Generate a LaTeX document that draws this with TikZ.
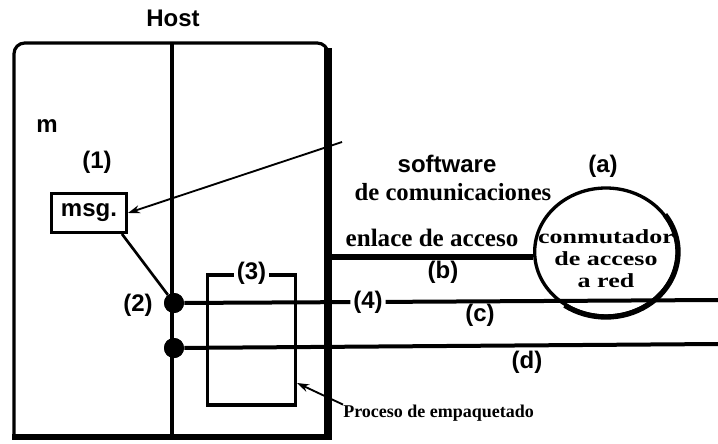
\documentclass[tikz,border=0pt]{standalone}
\usepackage{fontspec}
\setmainfont{Liberation Serif}
\setsansfont{Liberation Sans}
\newfontfamily\serwide[FakeStretch=1.3]{Liberation Serif}
\usetikzlibrary{shapes.geometric,arrows.meta}
\begin{document}
\begin{tikzpicture}[x=0.75pt,y=-0.75pt,
  lab/.style={font=\sffamily\bfseries\fontsize{18}{20}\selectfont, inner sep=0pt},
  ser/.style={font=\rmfamily\bfseries\fontsize{19}{20}\selectfont, inner sep=0pt, align=center},
  swtxt/.style={font=\serwide\bfseries\fontsize{15}{16.6}\selectfont, inner sep=0pt, align=center},
  dot/.style={circle, fill=black, minimum size=15pt, inner sep=0pt},
  wire/.style={line width=3pt},
  thin/.style={line width=2pt},
  ptr/.style={line width=1.4pt, -{Stealth[length=9pt,width=6pt]}}]
\useasboundingbox (0,0) rectangle (718,443);
% host box
\node[lab] (host) at (173,18) {Host};
\draw[line width=2.4pt, rounded corners=8] (14,437) -- (14,43) -- (328,43) -- (328,70);
\draw[line width=6pt] (328,48) -- (328,440);
\draw[line width=4pt] (12,437) -- (331,437);
\draw[line width=3pt] (172,43) -- (172,437);
\node[lab] (m) at (47,126) {m};
\node[lab] (l1) at (97,162) {(1)};
\node[lab, draw, line width=2.4pt, minimum width=56pt, minimum height=29pt] (msg) at (89,213) {msg.};
% packaging box
\node[draw, line width=2.4pt, minimum width=66pt, minimum height=97.5pt] (pk) at (251.5,340) {};
\node[lab, fill=white, inner sep=2pt] (l3) at (pk.north) {(3)};
% switch
\node[ellipse, draw, line width=2.5pt, minimum width=107pt, minimum height=96pt] (sw) at (606,252) {};
\draw[line width=4pt] (606,252) ++(-35:72 and 65) arc[start angle=-35, end angle=125, x radius=72, y radius=65];
\node[swtxt] (swt) at (606,259) {conmutador\\de acceso\\a red};
\node[lab] (la) at (603,166) {(a)};
% lines
\coordinate (a0) at (328,257);
\draw[line width=4.5pt] (a0) -- (a0 -| sw.west);
\node[lab, fill=white, inner sep=2pt] (l4) at (368,302) {(4)};
\coordinate (e4) at (718,300);
\coordinate (e5) at (718,344);
\node[dot] (d2) at (174,303) {};
\node[dot] (d3) at (174,348) {};
\draw[wire] (d2) -- (l4);
\draw[wire] (l4) -- (e4);
\draw[wire] (d3) -- (e5);
\node[dot] at (d2) {};
\node[dot] at (d3) {};
\node[lab] (l2) at (138,305) {(2)};
\draw[thin] (msg.south east) ++(-6,0) -- (d2);
% arrows
\coordinate (sw0) at (342,142);
\draw[ptr] (sw0) -- (msg.east);
% labels
\node[lab] (soft) at (447,164) {software};
\node[ser, font=\rmfamily\bfseries\fontsize{18.5}{20}\selectfont] (comm) at (453,192) {de comunicaciones};
\node[ser, font=\rmfamily\bfseries\fontsize{18.8}{20}\selectfont] (enl) at (432,238) {enlace de acceso};
\node[lab] (lb) at (443,272) {(b)};
\node[lab] (lc) at (480,315) {(c)};
\node[lab] (ld) at (527,362) {(d)};
\node[ser, anchor=west, font=\rmfamily\bfseries\fontsize{13.5}{15}\selectfont] (proc) at (343,413) {Proceso de empaquetado};
\coordinate (pkp) at (297,383);
\draw[ptr] (proc.north west) -- (pkp);
\end{tikzpicture}
\end{document}
